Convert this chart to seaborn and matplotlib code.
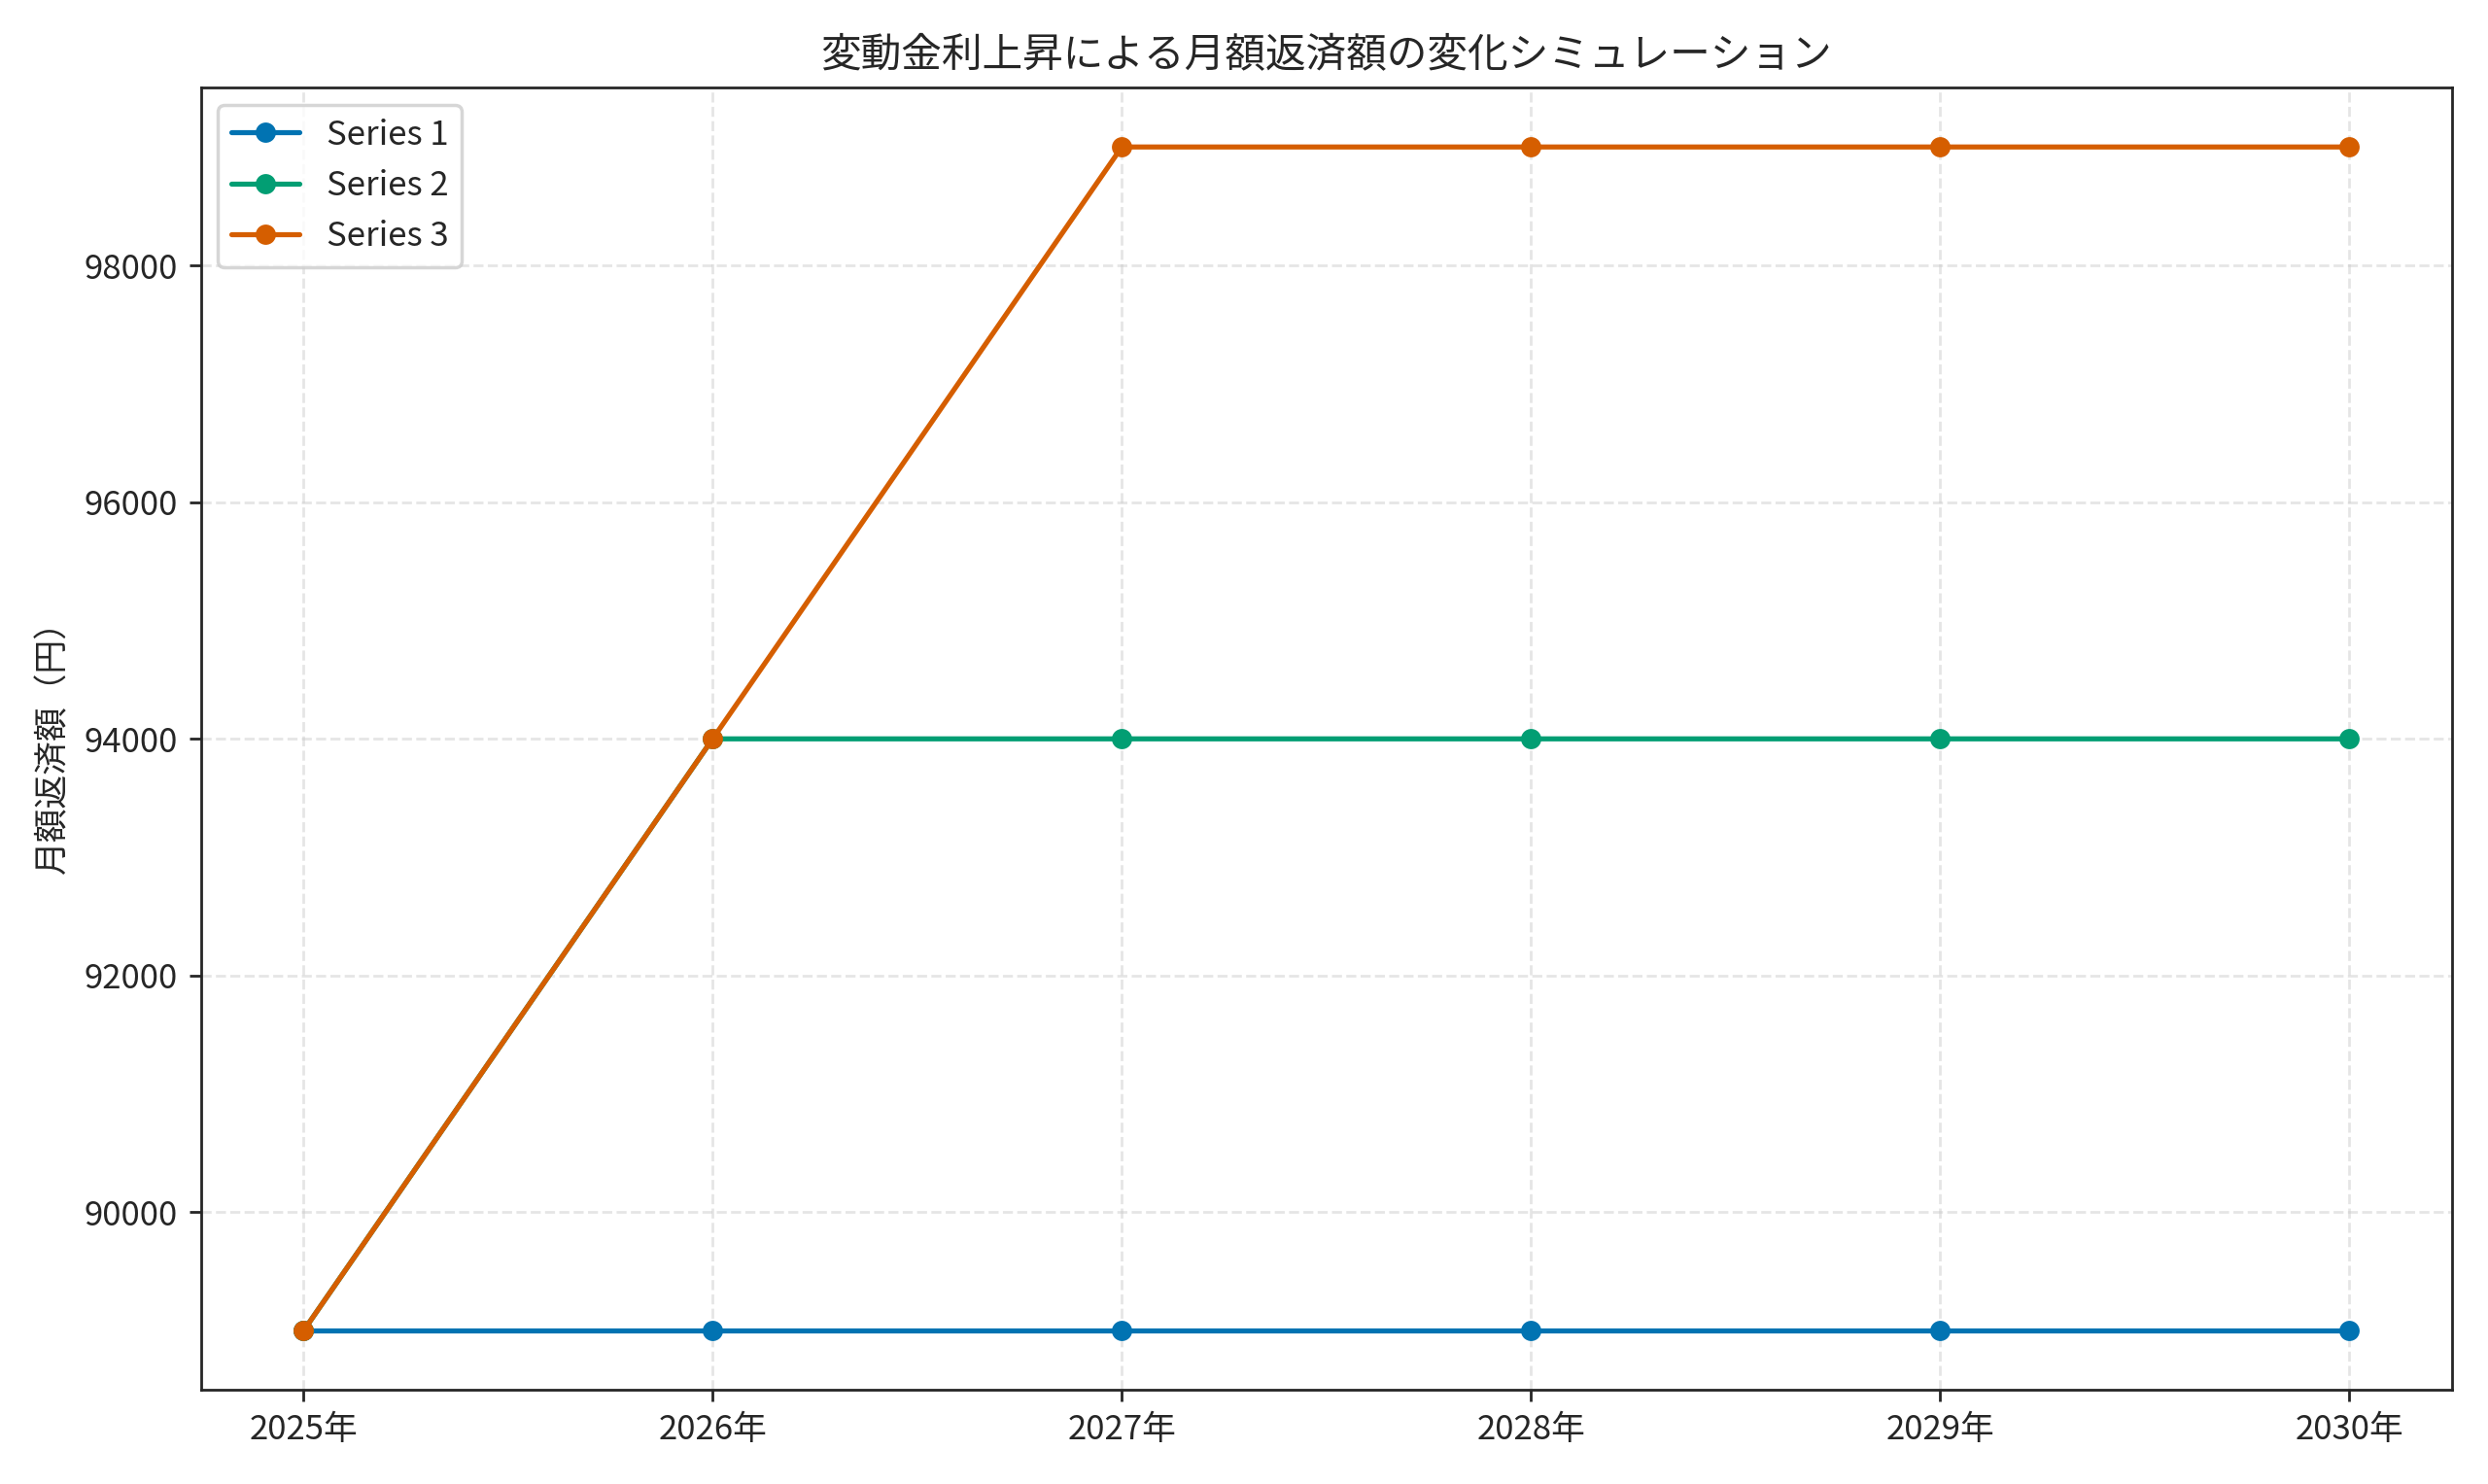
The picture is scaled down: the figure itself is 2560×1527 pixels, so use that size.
import matplotlib
matplotlib.use("Agg")
import matplotlib.pyplot as plt
import seaborn as sns
import pandas as pd

years = ["2025年", "2026年", "2027年", "2028年", "2029年", "2030年"]
series_names = ["Series 1", "Series 2", "Series 3"]
s1 = [89000, 89000, 89000, 89000, 89000, 89000]
s2 = [89000, 94000, 94000, 94000, 94000, 94000]
s3 = [89000, 94000, 99000, 99000, 99000, 99000]

sns.set_style("ticks")
plt.rcParams['font.family'] = ['Noto Sans CJK JP', 'DejaVu Sans']

rows = []
for name, vals in zip(series_names, [s1, s2, s3]):
    for i, (y, v) in enumerate(zip(years, vals)):
        rows.append({"x": i, "year": y, "value": v, "series": name})
df = pd.DataFrame(rows)

colors = sns.color_palette("colorblind")
palette = {"Series 1": colors[0], "Series 2": colors[2], "Series 3": colors[3]}

fig, ax = plt.subplots(figsize=(10.24, 6.108), dpi=250)
for name in series_names:
    d = df[df.series == name]
    sns.lineplot(data=d, x="x", y="value", ax=ax, color=palette[name], marker="o",
                 markersize=6, markeredgewidth=0, linewidth=1.5, label=name)
ax.set_xticks(range(len(years)))
ax.set_xticklabels(years)
ax.set_xlabel("")
ax.set_ylabel("月額返済額（円）", fontsize=10)
ax.set_title("変動金利上昇による月額返済額の変化シミュレーション", fontsize=12)
ax.grid(True, linestyle="--", alpha=0.5)
ax.tick_params(labelsize=10)
ax.legend(loc="upper left", fontsize=10)
fig.tight_layout()
fig.savefig("out.png", dpi=250)
